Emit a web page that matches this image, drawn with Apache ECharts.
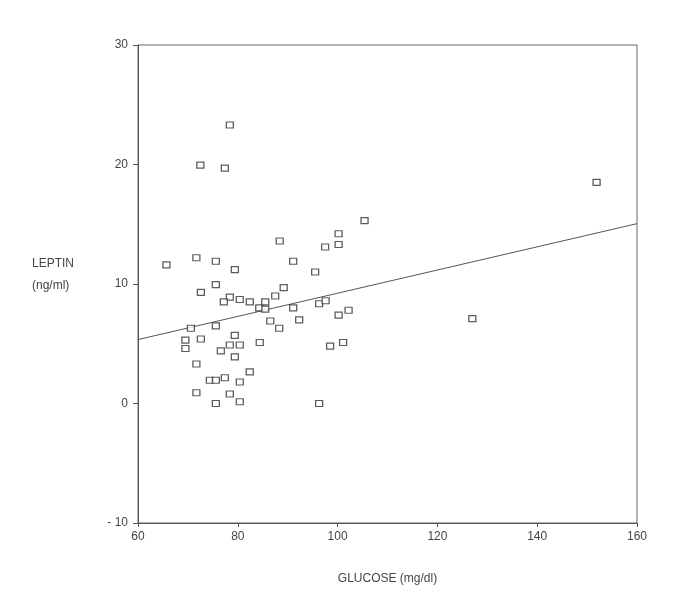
<!DOCTYPE html>
<html>
<head>
<meta charset="utf-8">
<script src="https://cdn.jsdelivr.net/npm/echarts@6/dist/echarts.min.js"></script>
<style>html,body{margin:0;padding:0;background:#fff;}#c{width:692px;height:609px;}</style>
</head>
<body>
<div id="c"></div>
<script>
var glucose = [65.7,71.7,75.6,79.4,88.4,91.1,95.5,97.5,100.2,72.6,75.6,78.4,77.2,80.4,82.4,84.3,85.5,85.5,87.5,89.2,91.1,86.5,88.3,92.3,96.3,97.6,100.2,102.2,70.6,75.6,69.5,69.5,72.6,79.4,78.4,80.4,76.6,79.4,84.4,98.5,101.1,71.7,82.4,74.4,75.6,77.4,80.4,71.7,78.4,75.6,80.4,96.3,78.4,72.5,77.4,105.4,100.2,151.9,127.0];
var leptin  = [11.6,12.2,11.9,11.2,13.6,11.9,11.0,13.1,13.3,9.3,9.95,8.9,8.5,8.7,8.5,8.0,8.5,7.9,9.0,9.7,8.0,6.9,6.3,7.0,8.35,8.6,7.4,7.8,6.3,6.5,5.3,4.6,5.4,5.7,4.9,4.9,4.4,3.9,5.1,4.8,5.1,3.3,2.65,1.95,1.95,2.15,1.8,0.9,0.8,0.0,0.15,0.0,23.3,19.95,19.7,15.3,14.2,18.5,7.1];
var fitX = [60, 160];
var fitY = [5.35, 15.05];
var xTicks = [60, 80, 100, 120, 140, 160];
var yTicks = [-10, 0, 10, 20, 30];

var pts = glucose.map(function(g, i){ return [g, leptin[i]]; });
var fit = fitX.map(function(x, i){ return [x, fitY[i]]; });

var chart = echarts.init(document.getElementById('c'), null, {renderer: 'canvas'});
var font = 'Liberation Sans, Arial, sans-serif';
chart.setOption({
  animation: false,
  backgroundColor: '#fff',
  grid: {left: 138, top: 45, right: 55, bottom: 86, show: true, borderColor: '#666', borderWidth: 1},
  xAxis: {
    type: 'value', min: xTicks[0], max: xTicks[xTicks.length-1], interval: 20,
    axisLine: {show: true, onZero: false, lineStyle: {color: '#555', width: 1}},
    axisTick: {show: true, length: 4, lineStyle: {color: '#555'}},
    splitLine: {show: false},
    axisLabel: {color: '#444', fontFamily: font, fontSize: 12, margin: 8},
    name: 'GLUCOSE (mg/dl)', nameLocation: 'middle', nameGap: 50,
    nameTextStyle: {color: '#444', fontFamily: font, fontSize: 12}
  },
  yAxis: {
    type: 'value', min: yTicks[0], max: yTicks[yTicks.length-1], interval: 10,
    axisLine: {show: true, onZero: false, lineStyle: {color: '#555', width: 1}},
    axisTick: {show: true, length: 5, lineStyle: {color: '#555'}},
    splitLine: {show: false},
    axisLabel: {color: '#444', fontFamily: font, fontSize: 12, margin: 10,
      formatter: function(v){ return v < 0 ? '- ' + Math.abs(v) : String(v); }}
  },
  graphic: [{
    type: 'text', left: 32, top: 253,
    style: {text: 'LEPTIN\n(ng/ml)', fill: '#444', font: '12px ' + font, lineHeight: 22, align: 'left'}
  }],
  series: [
    {
      type: 'line', data: fit, symbol: 'none', silent: true,
      lineStyle: {color: '#555', width: 1}, z: 1
    },
    {
      type: 'scatter', data: pts, symbol: 'rect', symbolSize: [7, 6],
      itemStyle: {color: '#fff', borderColor: '#333', borderWidth: 1.2}, z: 2
    }
  ]
});
</script>
</body>
</html>
